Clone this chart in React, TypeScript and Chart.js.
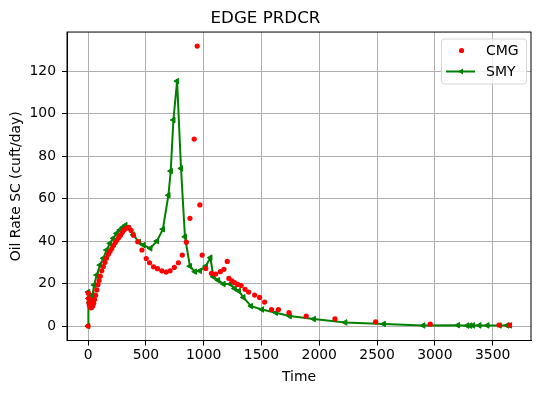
import React, { useEffect, useRef } from 'react';
import { Chart, registerables } from 'chart.js';

Chart.register(...registerables);

const chartTitle = 'EDGE PRDCR';
const xAxisTitle = 'Time';
const yAxisTitle = 'Oil Rate SC (cuft/day)';
const seriesNames = ['CMG', 'SMY'];

const cmgTime = [0, 2, 5, 8, 12, 18, 25, 32, 40, 48, 56, 65, 75, 85, 95, 105, 118, 132, 146, 160, 175, 190, 205, 220, 235, 250, 265, 280, 295, 310, 330, 352, 372, 393, 430, 466, 503, 532, 566, 600, 638, 675, 709, 746, 781, 815, 850, 881, 918, 944, 967, 987, 1018, 1067, 1104, 1144, 1175, 1204, 1218, 1244, 1267, 1295, 1324, 1358, 1389, 1441, 1484, 1527, 1587, 1647, 1738, 1887, 2136, 2488, 2960, 3555, 3645];
const cmgRate = [0, 15.5, 13, 11, 9.8, 9, 8.6, 8.8, 9.5, 10.7, 12.5, 14.5, 17, 19.5, 21.5, 23.5, 26, 28, 30, 32, 33.8, 35.2, 36.5, 38, 39.3, 40.5, 41.7, 42.8, 44, 45.2, 46, 46.5, 45, 42.8, 39.7, 35.8, 31.8, 29.8, 27.9, 27, 26, 25.4, 26, 27.6, 29.8, 33.4, 39.5, 50.7, 88, 131.8, 57, 33.4, 27.1, 24.8, 24.5, 25.6, 26.7, 30.4, 22.4, 21.3, 20.4, 19.6, 19.1, 17.3, 16, 14.6, 13.5, 11.3, 7.8, 7.8, 6.3, 4.7, 3.4, 2.0, 0.9, 0.5, 0.5];

const smyTime = [0, 1, 4, 10, 17, 25, 38, 52, 75, 103, 132, 160, 189, 218, 246, 275, 300, 323, 352, 390, 440, 480, 538, 595, 647, 695, 715, 738, 770, 804, 838, 881, 924, 967, 1018, 1058, 1084, 1124, 1172, 1230, 1267, 1304, 1344, 1410, 1504, 1624, 1744, 1953, 2225, 2558, 2900, 3200, 3280, 3305, 3330, 3385, 3455, 3560, 3625, 3650];
const smyRate = [0, 16, 13, 11, 10, 12, 14.6, 19.3, 24, 28.7, 31.9, 35.8, 38.9, 41.3, 43.6, 45.2, 46.5, 47.5, 46, 43, 39.5, 38.1, 36.6, 40, 45.6, 61.6, 73, 97, 115.3, 74.2, 42, 28.2, 25.6, 26, 28.2, 32.2, 23.2, 21.6, 19.8, 19.8, 17.7, 16.5, 13.5, 9.4, 7.8, 6.3, 4.7, 3.3, 1.7, 1.0, 0.3, 0.4, 0.2, 0.2, 0.3, 0.3, 0.3, 0.3, 0.3, 0.3];

const xTickValues = [0, 500, 1000, 1500, 2000, 2500, 3000, 3500];
const yTickValues = [0, 20, 40, 60, 80, 100, 120];

const FONT = 'DejaVu Sans';

const framePlugin = {
  id: 'frameAndLegend',
  afterDatasetsDraw(chart: any) {
    const { ctx, chartArea } = chart;
    const { left, right, top, bottom } = chartArea;
    ctx.save();
    ctx.strokeStyle = '#000000';
    ctx.lineWidth = 1;
    ctx.strokeRect(left, top, right - left, bottom - top);

    const bx = 441.5, by = 39, bw = 85, bh = 45, r = 3;
    ctx.beginPath();
    ctx.moveTo(bx + r, by);
    ctx.lineTo(bx + bw - r, by);
    ctx.quadraticCurveTo(bx + bw, by, bx + bw, by + r);
    ctx.lineTo(bx + bw, by + bh - r);
    ctx.quadraticCurveTo(bx + bw, by + bh, bx + bw - r, by + bh);
    ctx.lineTo(bx + r, by + bh);
    ctx.quadraticCurveTo(bx, by + bh, bx, by + bh - r);
    ctx.lineTo(bx, by + r);
    ctx.quadraticCurveTo(bx, by, bx + r, by);
    ctx.closePath();
    ctx.fillStyle = 'rgba(255,255,255,0.8)';
    ctx.fill();
    ctx.strokeStyle = '#d6d6d6';
    ctx.stroke();

    ctx.fillStyle = '#ff0000';
    ctx.beginPath();
    ctx.arc(461.5, 50.5, 2.6, 0, Math.PI * 2);
    ctx.fill();
    ctx.strokeStyle = '#008000';
    ctx.lineWidth = 2;
    ctx.beginPath();
    ctx.moveTo(446, 71.5);
    ctx.lineTo(475, 71.5);
    ctx.stroke();
    ctx.fillStyle = '#008000';
    ctx.beginPath();
    ctx.moveTo(458, 71.5);
    ctx.lineTo(463, 68.5);
    ctx.lineTo(463, 74.5);
    ctx.closePath();
    ctx.fill();

    ctx.fillStyle = '#000000';
    ctx.font = `14px "${FONT}"`;
    ctx.textAlign = 'left';
    ctx.textBaseline = 'middle';
    ctx.fillText(seriesNames[0], 486, 51);
    ctx.fillText(seriesNames[1], 486, 72.5);
    ctx.restore();
  },
};

export default function App() {
  const canvasRef = useRef<HTMLCanvasElement | null>(null);

  useEffect(() => {
    const canvas = canvasRef.current;
    if (!canvas) return;
    const chart = new Chart(canvas, {
      type: 'scatter',
      data: {
        datasets: [
          {
            label: seriesNames[0],
            data: cmgTime.map((t, i) => ({ x: t, y: cmgRate[i] })),
            showLine: false,
            backgroundColor: '#ff0000',
            borderColor: '#ff0000',
            pointRadius: 2.6,
            pointBorderWidth: 0,
            pointHoverRadius: 2.6,
          },
          {
            label: seriesNames[1],
            data: smyTime.map((t, i) => ({ x: t, y: smyRate[i] })),
            showLine: true,
            borderColor: '#008000',
            backgroundColor: '#008000',
            borderWidth: 2,
            pointStyle: 'triangle',
            rotation: -90,
            pointRadius: 3.2,
            pointBorderWidth: 1,
            pointBorderColor: '#008000',
            pointBackgroundColor: '#008000',
            pointHoverRadius: 3.2,
            tension: 0,
          },
        ],
      },
      options: {
        animation: false,
        responsive: false,
        maintainAspectRatio: false,
        devicePixelRatio: 1,
        events: [],
        layout: { padding: { left: 0, right: 9, top: 0, bottom: 0 } },
        plugins: {
          legend: { display: false },
          tooltip: { enabled: false },
          title: {
            display: true,
            text: chartTitle,
            color: '#000000',
            font: { family: FONT, size: 16.7, weight: 'normal' },
            padding: { top: 9, bottom: 3 },
          },
        },
        scales: {
          x: {
            type: 'linear',
            min: -182.5,
            max: 3832,
            afterBuildTicks: (scale: any) => {
              scale.ticks = xTickValues.map((v) => ({ value: v }));
            },
            afterFit: (scale: any) => {
              scale.height = 52.5;
            },
            ticks: {
              color: '#000000',
              font: { family: FONT, size: 13.9 },
              padding: 2,
              maxRotation: 0,
              autoSkip: false,
              callback: (v: any) => String(v),
            },
            grid: {
              color: '#b0b0b0',
              lineWidth: 1,
              tickColor: '#000000',
              tickLength: 5,
              drawTicks: true,
            },
            border: { display: true, color: '#000000', width: 1 },
            title: {
              display: true,
              text: xAxisTitle,
              color: '#000000',
              font: { family: FONT, size: 13.9 },
              padding: { top: 0, bottom: 7.5 },
            },
          },
          y: {
            type: 'linear',
            min: -6.8,
            max: 138.4,
            afterBuildTicks: (scale: any) => {
              scale.ticks = yTickValues.map((v) => ({ value: v }));
            },
            afterFit: (scale: any) => {
              scale.width = 67;
            },
            ticks: {
              color: '#000000',
              font: { family: FONT, size: 13.9 },
              padding: 6,
              autoSkip: false,
              callback: (v: any) => String(v),
            },
            grid: {
              color: '#b0b0b0',
              lineWidth: 1,
              tickColor: '#000000',
              tickLength: 5,
              drawTicks: true,
            },
            border: { display: true, color: '#000000', width: 1 },
            title: {
              display: true,
              text: yAxisTitle,
              color: '#000000',
              font: { family: FONT, size: 13.9 },
              padding: { top: 8.5, bottom: 0 },
            },
          },
        },
      },
      plugins: [framePlugin],
    } as any);
    return () => chart.destroy();
  }, []);

  return (
    <div style={{ position: 'fixed', left: 0, top: 0, width: 540, height: 393, background: '#ffffff' }}>
      <canvas ref={canvasRef} width={540} height={393} style={{ width: 540, height: 393, display: 'block' }} />
    </div>
  );
}
